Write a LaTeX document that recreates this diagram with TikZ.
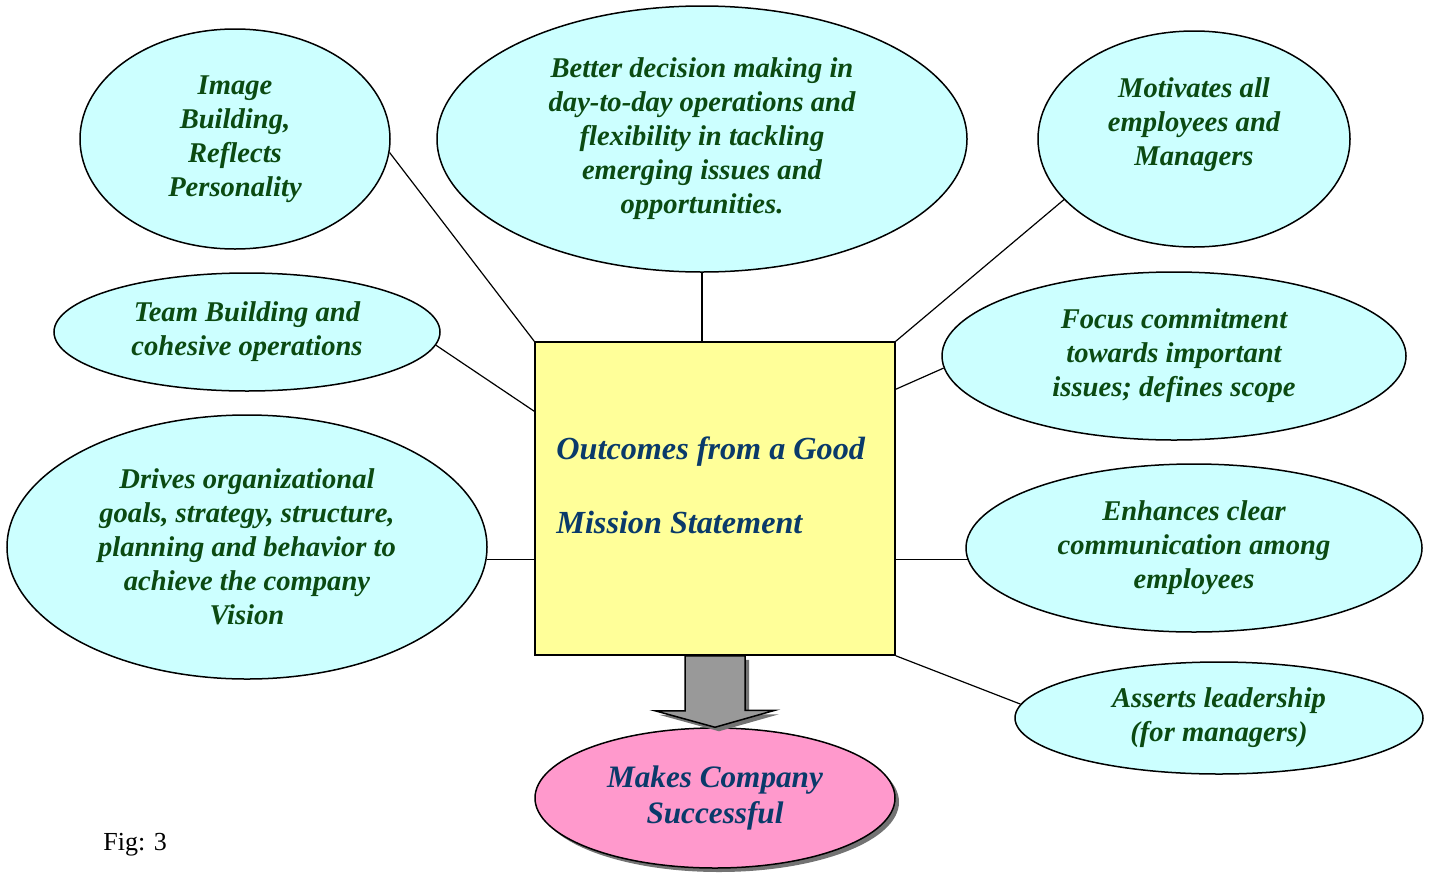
\documentclass[tikz,border=0pt]{standalone}
\usepackage{fontspec}
\setmainfont{Liberation Serif}
\usetikzlibrary{shapes.geometric,shadows}
\definecolor{ideafill}{HTML}{CCFFFF}
\definecolor{ideatext}{HTML}{0B4A12}
\definecolor{boxfill}{HTML}{FFFF99}
\definecolor{goalfill}{HTML}{FF99CC}
\definecolor{titletext}{HTML}{0A3A6A}
\definecolor{arrowfill}{HTML}{999999}

\begin{document}
\begin{tikzpicture}[x=0.5pt,y=-0.5pt,
    idea/.style={ellipse,draw,line width=0.75pt,fill=ideafill,inner sep=0pt,align=center,
        text=ideatext,font=\fontsize{14.3}{17}\selectfont\bfseries\itshape},
    link/.style={line width=0.6pt},
    shade/.style={drop shadow={shadow xshift=2pt,shadow yshift=-2pt,fill=black!55,opacity=1}}]
    \useasboundingbox (0,0) rectangle (1429,873);

    % the mission statement box
    \node[draw,line width=0.75pt,fill=boxfill,minimum width=180pt,minimum height=156.5pt,inner sep=0pt] (box) at (715,498.5) {};
    \node[anchor=west,inner sep=0pt,align=left,text=titletext,font=\fontsize{16.1}{37}\selectfont\bfseries\itshape] (title) at (556,485) {Outcomes from a Good\\Mission Statement};

    % outcomes round it
    \node[idea,minimum width=155pt,minimum height=110pt] (img) at (235,139) {Image\\Building,\\Reflects\\Personality};
    \node[idea,minimum width=265pt,minimum height=133pt] (bdm) at (702,139) {Better decision making in\\day-to-day operations and\\flexibility in tackling\\emerging issues and\\opportunities.};
    \node[idea,minimum width=156pt,minimum height=108pt] (mot) at (1194,139) {Motivates all\\employees and\\Managers\\\mbox{}};
    \node[idea,minimum width=193pt,minimum height=59pt] (team) at (247,332) {Team Building and\\cohesive operations};
    \node[idea,minimum width=232pt,minimum height=84pt] (focus) at (1174,356) {Focus commitment\\towards important\\issues; defines scope};
    \node[idea,minimum width=240pt,minimum height=132pt] (drv) at (247,547) {Drives organizational\\goals, strategy, structure,\\planning and behavior to\\achieve the company\\Vision};
    \node[idea,minimum width=228pt,minimum height=84pt] (enh) at (1194,548) {Enhances clear\\communication among\\employees};
    \node[idea,minimum width=204pt,minimum height=56pt] (asrt) at (1219,718) {Asserts leadership\\(for managers)};

    \draw[link] (img.-5) -- (box.north west);
    \draw[link] (bdm.south) -- (bdm.south |- box.north);
    \draw[link] (mot.205) -- (box.north east);
    \draw[link] (team.-4) -- ([yshift=-35pt]box.north west);
    \draw[link] (focus.183) -- ([yshift=-24pt]box.north east);
    \draw[link] (drv.-3) -- (drv.-3 -| box.west);
    \draw[link] (enh.183) -- (enh.183 -| box.east);
    \draw[link] (asrt.176) -- (box.south east);

    % result
    \node[ellipse,draw,line width=0.75pt,fill=goalfill,shade,minimum width=180pt,minimum height=70pt,inner sep=0pt,
        align=center,text=titletext,font=\fontsize{15.6}{18}\selectfont\bfseries\itshape] (goal) at (715,798) {Makes Company\\Successful};
    \draw[line width=0.75pt,fill=arrowfill,shade] ([xshift=-15pt]box.south) -- ++(0,55) -- ++(-30,0) -- (goal.north)
        -- ++(60,-17) -- ++(-30,0) -- ([xshift=15pt]box.south) -- cycle;

    \node[anchor=base west,inner sep=0pt,font=\fontsize{13}{15}\selectfont] (fig) at (103,850) {Fig: 3};
\end{tikzpicture}
\end{document}
